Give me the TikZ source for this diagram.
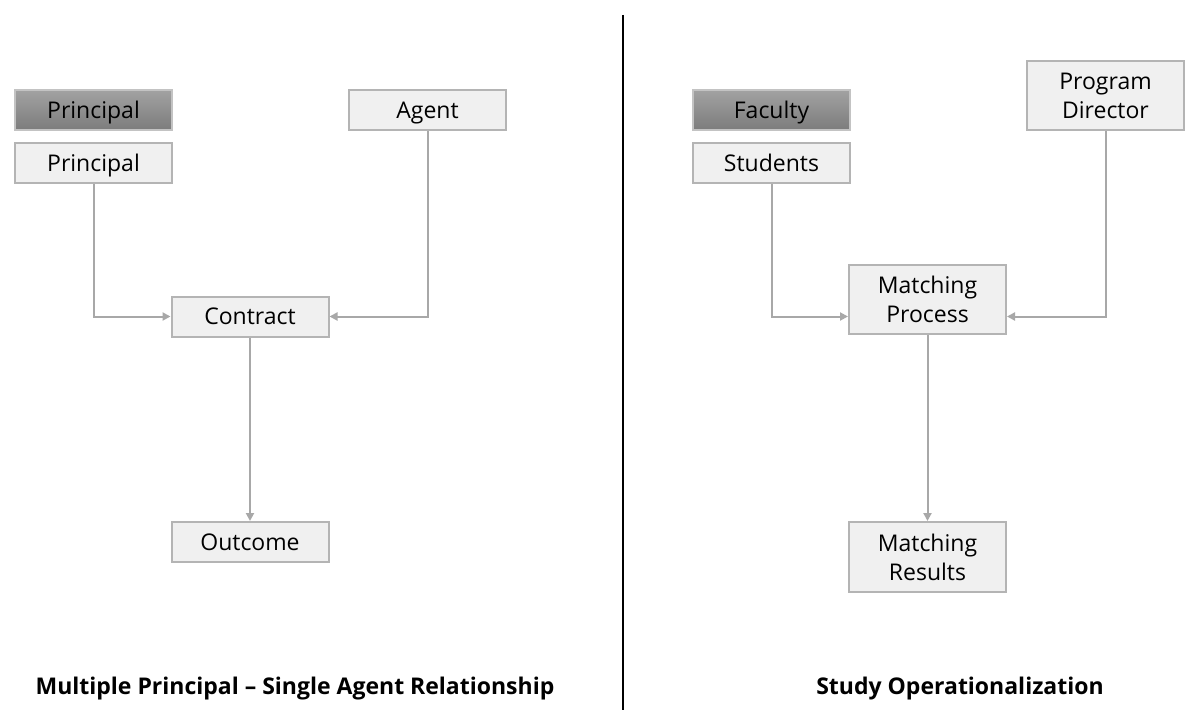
\documentclass[tikz,border=0pt]{standalone}
\usepackage{fontspec}
\setmainfont{Open Sans}
\usetikzlibrary{arrows.meta}
\definecolor{boxfill}{HTML}{F0F0F0}
\definecolor{boxline}{HTML}{B4B4B4}
\definecolor{conncol}{HTML}{A8A8A8}
\definecolor{darktop}{HTML}{A2A2A2}
\definecolor{darkbot}{HTML}{7C7C7C}
\tikzset{
  lightbox/.style={draw=boxline, line width=2pt, fill=boxfill, minimum width=157pt, minimum height=40pt, inner sep=0pt, align=center, font=\fontsize{23}{29}\selectfont, text=black},
  oneline/.style={text height=16.4pt, text depth=0pt},
  darkbox/.style={lightbox, oneline, top color=darktop, bottom color=darkbot, draw=boxline!80},
  conn/.style={draw=conncol, line width=2pt, -{Triangle[width=8pt,length=8pt]}},
  title/.style={font=\bfseries\fontsize{23}{28}\selectfont, text=black, inner sep=0pt}
}
\begin{document}
\begin{tikzpicture}[x=1pt,y=-1pt]
\useasboundingbox[fill=white] (0,0) rectangle (1200,725);
% divider
\draw[black, line width=2pt] (623,15) coordinate (d1) -- (623,710) coordinate (d2);
% left diagram
\node[darkbox] (p1) at (93.5,110) {Principal};
\node[lightbox, oneline] (p2) at (93.5,163) {Principal};
\node[lightbox, oneline] (agent) at (427.5,110) {Agent};
\node[lightbox, oneline] (contract) at (250,316.5) {Contract};
\node[lightbox, oneline] (outcome) at (250,542) {Outcome};
\draw[conn] (p2.south) |- (contract.west);
\draw[conn] (agent.south) |- (contract.east);
\draw[conn] (contract.south) -- (outcome.north);
\node[title] (t1) at (295,689) {Multiple Principal -- Single Agent Relationship};
% right diagram
\node[darkbox] (fac) at (771.5,110) {Faculty};
\node[lightbox, oneline] (stud) at (771.5,163) {Students};
\node[lightbox, minimum height=69pt] (pd) at (1105.5,95.5) {Program\\Director};
\node[lightbox, minimum height=69pt] (mp) at (927.5,299.5) {Matching\\Process};
\node[lightbox, minimum height=70pt] (mr) at (927.5,557) {Matching\\Results};
\draw[conn] (stud.south) |- (mp.west |- contract.east);
\draw[conn] (pd.south) |- (mp.east |- contract.east);
\draw[conn] (mp.south) -- (mr.north);
\node[title] (t2) at (960,689) {Study Operationalization};
\end{tikzpicture}
\end{document}
